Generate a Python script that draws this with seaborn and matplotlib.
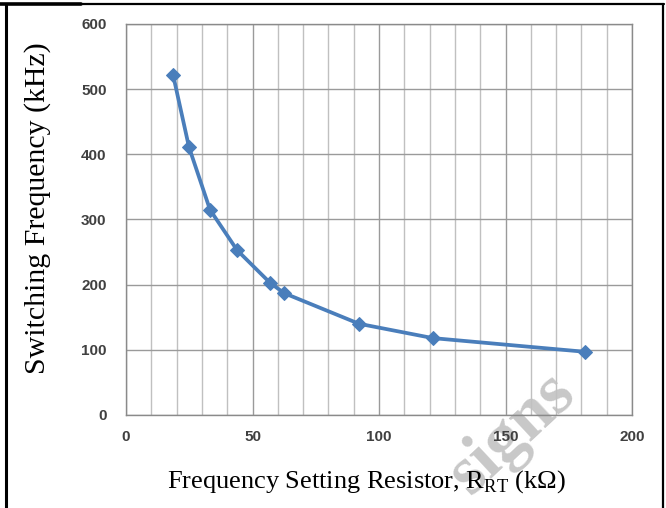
import matplotlib
matplotlib.use("Agg")
import matplotlib.pyplot as plt
from matplotlib.lines import Line2D
from matplotlib.ticker import MultipleLocator
import seaborn as sns
import pandas as pd

resistance_kohm = [18.6, 24.9, 33.2, 43.9, 56.9, 62.5, 92.1, 121.3, 181.4]
frequency_khz = [522, 411, 315, 253, 203, 187, 140, 118, 97]
x_ticks = [0, 50, 100, 150, 200]
y_ticks = [0, 100, 200, 300, 400, 500, 600]

sns.set_theme(style="white")
plt.rcParams["mathtext.fontset"] = "custom"
plt.rcParams["mathtext.rm"] = "Liberation Serif"

df = pd.DataFrame({"R": resistance_kohm, "F": frequency_khz})

fig = plt.figure(figsize=(6.66, 5.08), dpi=100)
ax = fig.add_axes([126/666, 1-415/508, (632-126)/666, (415-24)/508])
ax.patch.set_visible(False)

sns.lineplot(data=df, x="R", y="F", ax=ax, color="#4a7ebb", linewidth=2.7,
             marker="D", markersize=7, markeredgecolor="#4a7ebb", zorder=3)

ax.set_xlim(0, 200)
ax.set_ylim(0, 600)
ax.set_xticks(x_ticks)
ax.set_yticks(y_ticks)
ax.xaxis.set_minor_locator(MultipleLocator(10))
ax.grid(which="major", axis="both", color="#9a9a9a", linewidth=1.0)
ax.grid(which="minor", axis="x", color="#c0c0c0", linewidth=1.0)
ax.tick_params(which="both", length=0)
for s in ax.spines.values():
    s.set_color("#8a8a8a")
    s.set_linewidth(1.0)

for lbl in ax.get_xticklabels() + ax.get_yticklabels():
    lbl.set_fontfamily("Liberation Sans")
    lbl.set_fontweight("bold")
    lbl.set_fontsize(11)
    lbl.set_color("#404040")
ax.tick_params(axis="x", pad=11)
ax.tick_params(axis="y", pad=14)
ax.set_xlabel("")
ax.set_ylabel("")

# watermark (behind the chart's lines and texts)
fig.text(578/666, 1-396/508, "signs", fontfamily="Liberation Serif",
         fontweight="bold", fontsize=50, color="#c8c8c8", rotation=43,
         rotation_mode="anchor", ha="right", va="baseline", zorder=-1)

# axis titles
fig.text(366/666, 1-482/508, r"Frequency Setting Resistor, R$_{\mathrm{RT}}$ (k$\Omega$)",
         fontfamily="Liberation Serif", fontsize=19, color="black",
         ha="center", va="center", zorder=5)
fig.text(38/666, 1-208/508, "Switching Frequency (kHz)", fontfamily="Liberation Serif",
         fontsize=21.5, color="black", rotation=90, ha="center", va="center", zorder=5)

# frame border
fig.add_artist(Line2D([6/666, 6/666], [0, 1-4/508], color="black", linewidth=2.2,
                      transform=fig.transFigure))
fig.add_artist(Line2D([663/666, 663/666], [0, 1-4/508], color="black", linewidth=1.6,
                      transform=fig.transFigure))
fig.add_artist(Line2D([0, 81/666], [1-4/508, 1-4/508], color="black", linewidth=2.6,
                      transform=fig.transFigure))
fig.add_artist(Line2D([81/666, 664/666], [1-4/508, 1-4/508], color="black", linewidth=1.6,
                      transform=fig.transFigure))

fig.savefig("out.png", dpi=100)
